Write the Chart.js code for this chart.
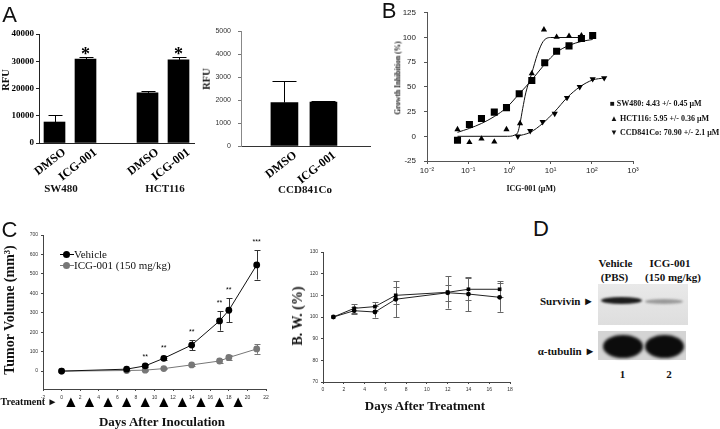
<!DOCTYPE html>
<html>
<head>
<meta charset="utf-8">
<script src="https://cdn.jsdelivr.net/npm/chart.js@4.4.1/dist/chart.umd.min.js"></script>
<style>
  html, body { margin: 0; padding: 0; background: #fff; }
  #fig { position: relative; width: 720px; height: 429px; overflow: hidden; background: #fff; }
  #fig canvas { position: absolute; }
  .t { position: absolute; white-space: nowrap; transform: translate(-50%, -50%); line-height: 1;
       font-family: 'Liberation Serif', 'Times New Roman', serif; font-weight: bold; color: #111; }
  .t.v { transform: translate(-50%, -50%) rotate(-90deg); }
  .t.l { transform: translate(0, -50%); }
  .t.sans { font-family: 'Liberation Sans', Arial, sans-serif; font-weight: normal; }
  .t.reg { font-weight: normal; }
  .blot { position: absolute; }
  .band { position: absolute; border-radius: 50%; }
</style>
</head>
<body>
<div id="fig">
  <canvas id="cA1"></canvas>
  <canvas id="cA2"></canvas>
  <canvas id="cB"></canvas>
  <canvas id="cC1"></canvas>
  <canvas id="cC2"></canvas>
</div>
<script>
// ---- A: RFU per cell line
const aLabels = ['DMSO', 'ICG-001', '', 'DMSO', 'ICG-001'];
const aValues = [7700, 30800, null, 18400, 30500];
const aErrors = [2550, 600, null, 600, 900];
const aStars = ['', '*', '', '', '*'];
const aTicks = [0, 10000, 20000, 30000, 40000];

const ccdLabels = ['DMSO', 'ICG-001'];
const ccdPos = [1, 2];
const ccdValues = [1890, 1910];
const ccdErrors = [950, 30];

// ---- B: growth inhibition vs dose (uM)
const swDose = [0.055, 0.107, 0.21, 0.43, 0.85, 1.73, 3.5, 7.2, 14, 28, 56, 105];
const swInhib = [-4, 12, 18, 24.5, 29, 43, 56.5, 74.5, 86, 91.5, 99, 102];
const hctDose = [0.055, 0.107, 0.21, 0.43, 0.85, 1.81, 3.5, 6.9, 14, 28, 56];
const hctInhib = [7, -6, -2.5, -5.5, 7, 13, 63.5, 108, 100.5, 101.5, 102];
const ccdDose = [1.6, 3.2, 6.4, 12.6, 25, 51, 105, 200];
const ccdInhib = [0, 5.5, 14.7, 23, 39, 50, 58, 59];
// fitted curves
const swFitDose = [0.055, 0.107, 0.21, 0.43, 0.85, 1.73, 3.5, 7.2, 14, 28, 56, 105];
const swFitInhib = [4, 8, 13, 20, 29, 43, 57, 73, 85, 92, 96, 98];
const hctFitDose = [0.055, 0.9, 1.3, 1.6, 1.81, 2.1, 2.5, 3.5, 4.8, 6.6, 10, 56];
const hctFitInhib = [0, 0, 1, 4, 13, 28, 44, 64, 83, 96, 100, 100];
const ccdFitDose = [1.5, 3.2, 6.4, 12.6, 25, 51, 105, 200];
const ccdFitInhib = [0, 4, 13, 25, 39, 50, 57, 59];
const bDecades = [0.01, 0.1, 1, 10, 100, 1000];
const bDecadeLabels = ['10⁻²', '10⁻¹', '10⁰', '10¹', '10²', '10³'];

// ---- C: tumor volume (mm3)
const tvDays = [0, 7, 9, 11, 14, 17, 18, 21];
const vehicleVol = [0, 10, 27, 66, 134, 258, 313, 546];
const vehicleErr = [0, 4, 6, 10, 27, 50, 61, 75];
const icgVol = [0, 3, 5, 13, 32, 52, 70, 114];
const icgErr = [0, 2, 3, 4, 6, 12, 15, 25];
const tvStars = ['', '', '**', '**', '**', '**', '**', '***'];
const treatmentDays = [1, 3, 5, 7, 9, 11, 13, 15, 17, 19];

// ---- C: body weight (%)
const bwDays = [1, 3, 5, 7, 12, 14, 17];
const bwA = [100, 104, 104.8, 110, 111.4, 112.8, 112.8];
const bwAErr = [0, 2, 2.2, 4, 7.5, 5, 3.7];
const bwB = [100, 102.9, 102.3, 108.2, 111.2, 110.6, 109.1];
const bwBErr = [0, 1.5, 2.6, 8.2, 3.6, 8, 6.7];

const SERIF = "'Liberation Serif', 'Times New Roman', serif";
const SANS = "'Liberation Sans', Arial, sans-serif";
const fig = document.getElementById('fig');

function setBox(id, l, t, w, h) {
  const c = document.getElementById(id);
  c.width = w; c.height = h;
  c.style.left = l + 'px'; c.style.top = t + 'px';
  c.style.width = w + 'px'; c.style.height = h + 'px';
  return c;
}

function addText(txt, x, y, size, cls = '') {
  const d = document.createElement('div');
  d.className = 't ' + cls;
  d.textContent = txt;
  d.style.left = x + 'px';
  d.style.top = y + 'px';
  d.style.fontSize = size + 'px';
  fig.appendChild(d);
  return d;
}

const pts = (xs, ys) => xs.map((x, i) => ({ x: x, y: ys[i] }));
const yOf = (raw) => (raw !== null && typeof raw === 'object') ? raw.y : raw;
const plain = v => String(v);

const errorBars = {
  id: 'errorBars',
  beforeDatasetsDraw(chart) {
    const ctx = chart.ctx;
    chart.data.datasets.forEach((ds, i) => {
      if (!ds.errors) return;
      const meta = chart.getDatasetMeta(i);
      const ys = chart.scales[meta.yAxisID];
      ctx.save();
      ctx.strokeStyle = ds.errorColor || '#000';
      ctx.lineWidth = 1;
      meta.data.forEach((el, j) => {
        const err = ds.errors[j];
        const v = yOf(ds.data[j]);
        if (!err || v == null) return;
        const x = Math.round(el.x) + 0.5;
        const top = Math.round(ys.getPixelForValue(v + err)) + 0.5;
        const bot = ys.getPixelForValue(ds.errorUpOnly ? v : v - err);
        const cap = (ds.errorCap || 6) / 2;
        ctx.beginPath();
        ctx.moveTo(x, top); ctx.lineTo(x, bot);
        ctx.moveTo(x - cap, top); ctx.lineTo(x + cap, top);
        if (!ds.errorUpOnly) {
          const b = Math.round(bot) + 0.5;
          ctx.moveTo(x - cap, b); ctx.lineTo(x + cap, b);
        }
        ctx.stroke();
      });
      ctx.restore();
    });
  }
};

const stars = {
  id: 'stars',
  afterDatasetsDraw(chart) {
    const ctx = chart.ctx;
    chart.data.datasets.forEach((ds, i) => {
      if (!ds.stars) return;
      const meta = chart.getDatasetMeta(i);
      const ys = chart.scales[meta.yAxisID];
      ctx.save();
      ctx.fillStyle = '#000';
      ctx.font = ds.starFont;
      ctx.textAlign = 'center';
      ctx.textBaseline = 'middle';
      meta.data.forEach((el, j) => {
        const s = ds.stars[j];
        if (!s) return;
        const v = yOf(ds.data[j]) + (ds.errors ? ds.errors[j] : 0);
        ctx.fillText(s, el.x, ys.getPixelForValue(v) - ds.starGap);
      });
      ctx.restore();
    });
  }
};

// slanted category labels under the x axis, placed at the scale's tick pixels
const slantLabels = {
  id: 'slantLabels',
  afterDraw(chart, args, opts) {
    if (!opts.labels) return;
    const xs = chart.scales.x, ctx = chart.ctx;
    ctx.save();
    ctx.fillStyle = '#000';
    ctx.font = opts.font;
    ctx.textAlign = 'right';
    ctx.textBaseline = 'middle';
    opts.labels.forEach((lab, i) => {
      if (!lab) return;
      const x = xs.getPixelForValue(opts.values ? opts.values[i] : i) + opts.dx;
      ctx.save();
      ctx.translate(x, xs.top + opts.dy);
      ctx.rotate(-opts.angle * Math.PI / 180);
      ctx.fillText(lab, 0, 0);
      ctx.restore();
    });
    ctx.restore();
  }
};

Chart.register(errorBars, stars, slantLabels);
Chart.defaults.animation = false;
Chart.defaults.responsive = false;
Chart.defaults.devicePixelRatio = 1;
Chart.defaults.plugins.legend.display = false;
Chart.defaults.plugins.tooltip.enabled = false;

const slantFont = 'bold 12px ' + SERIF;

// ---------------- A (left) ----------------
new Chart(setBox('cA1', 0, 20, 205, 165), {
  type: 'bar',
  data: {
    labels: aLabels,
    datasets: [{
      data: aValues, backgroundColor: '#000', barThickness: 21,
      errors: aErrors, errorUpOnly: true, errorCap: 14,
      stars: aStars, starFont: 'bold 18px ' + SERIF, starGap: 2
    }]
  },
  options: {
    layout: { padding: { top: 14, right: 11, left: 0, bottom: 0 } },
    plugins: { slantLabels: { labels: aLabels, font: slantFont, angle: 38, dx: 10, dy: 8 } },
    scales: {
      x: {
        afterFit: s => { s.height = 42; },
        grid: { display: false },
        border: { color: '#222' },
        ticks: { display: false }
      },
      y: {
        min: 0, max: 40000,
        afterFit: s => { s.width = 39; },
        afterBuildTicks: s => { s.ticks = aTicks.map(v => ({ value: v })); },
        grid: { drawOnChartArea: false, tickLength: 3, color: '#222' },
        border: { color: '#222' },
        ticks: { color: '#000', font: { family: SERIF, size: 9, weight: 'bold' }, padding: 2, callback: plain }
      }
    }
  }
});

// ---------------- A (right) ----------------
new Chart(setBox('cA2', 200, 20, 175, 165), {
  type: 'bar',
  data: {
    datasets: [{
      data: pts(ccdPos, ccdValues), backgroundColor: '#000', barThickness: 27,
      errors: ccdErrors, errorUpOnly: true, errorCap: 24
    }]
  },
  options: {
    layout: { padding: { top: 10, right: 5, left: 0, bottom: 0 } },
    plugins: { slantLabels: { labels: ccdLabels, values: ccdPos, font: slantFont, angle: 38, dx: 11, dy: 8 } },
    scales: {
      x: {
        type: 'linear', min: 0.3, max: 2.78,
        afterFit: s => { s.height = 39; },
        grid: { display: false },
        border: { color: '#333' },
        ticks: { display: false }
      },
      y: {
        min: 0, max: 5000,
        afterFit: s => { s.width = 41; },
        grid: { drawOnChartArea: false, tickLength: 3, color: '#777' },
        border: { color: '#888' },
        ticks: { stepSize: 1000, color: '#333', font: { family: SANS, size: 7 }, padding: 7, callback: plain }
      }
    }
  }
});

// ---------------- B ----------------
const fitLine = (xs, ys) => ({
  data: pts(xs, ys), showLine: true, pointRadius: 0, borderColor: '#111',
  borderWidth: 1, cubicInterpolationMode: 'monotone', fill: false
});
const marks = (xs, ys, style, r, rot) => ({
  data: pts(xs, ys), showLine: false, pointStyle: style, pointRadius: r,
  rotation: rot || 0, backgroundColor: '#000', borderColor: '#000', borderWidth: 0
});
new Chart(setBox('cB', 380, 0, 262, 182), {
  type: 'line',
  data: {
    datasets: [
      marks(swDose, swInhib, 'rect', 5),
      marks(hctDose, hctInhib, 'triangle', 3.6),
      marks(ccdDose, ccdInhib, 'triangle', 3.6, 180),
      fitLine(swFitDose, swFitInhib),
      fitLine(hctFitDose, hctFitInhib),
      fitLine(ccdFitDose, ccdFitInhib)
    ]
  },
  options: {
    layout: { padding: { top: 8, right: 9, left: 0, bottom: 0 } },
    scales: {
      x: {
        type: 'logarithmic', min: 0.01, max: 1000,
        afterFit: s => { s.height = 21; },
        afterBuildTicks: s => { s.ticks = bDecades.map(v => ({ value: v })); },
        grid: { drawOnChartArea: false, tickLength: 3, color: '#555' },
        border: { color: '#555' },
        ticks: { color: '#222', font: { family: SANS, size: 8 }, padding: 2,
                 callback: v => bDecadeLabels[bDecades.indexOf(v)] }
      },
      y: {
        min: -25, max: 125,
        afterFit: s => { s.width = 47; },
        grid: { drawOnChartArea: false, tickLength: 3, color: '#555' },
        border: { color: '#555' },
        ticks: { stepSize: 25, color: '#222', font: { family: SANS, size: 8 }, padding: 8 }
      }
    }
  }
});

// ---------------- C (tumor volume) ----------------
const treatment = {
  id: 'treatment',
  afterDraw(chart) {
    const xs = chart.scales.x, ctx = chart.ctx;
    ctx.save();
    ctx.fillStyle = '#000';
    treatmentDays.forEach(d => {
      const x = xs.getPixelForValue(d);
      ctx.beginPath();
      ctx.moveTo(x, 397.5 - 225);
      ctx.lineTo(x + 4.6, 407 - 225);
      ctx.lineTo(x - 4.6, 407 - 225);
      ctx.closePath();
      ctx.fill();
    });
    ctx.restore();
  }
};
new Chart(setBox('cC1', 0, 225, 278, 190), {
  type: 'line',
  data: {
    datasets: [
      {
        data: pts(tvDays, vehicleVol), borderColor: '#111', borderWidth: 1,
        pointRadius: 3.4, pointBackgroundColor: '#000', pointBorderWidth: 0,
        errors: vehicleErr, errorColor: '#333', errorCap: 6,
        stars: tvStars, starFont: '7px ' + SANS, starGap: 8
      },
      {
        data: pts(tvDays, icgVol), borderColor: '#777', borderWidth: 1,
        pointRadius: 3.4, pointBackgroundColor: '#777', pointBorderWidth: 0,
        errors: icgErr, errorColor: '#777', errorCap: 6
      }
    ]
  },
  plugins: [treatment],
  options: {
    layout: { padding: { top: 10, right: 12, left: 0, bottom: 0 } },
    scales: {
      x: {
        type: 'linear', min: -2, max: 22,
        afterFit: s => { s.height = 26; },
        grid: { drawOnChartArea: false, tickLength: 2, color: '#444' },
        border: { color: '#444' },
        ticks: { stepSize: 2, color: '#333', font: { family: SANS, size: 5 }, padding: 4 }
      },
      y: {
        min: -92, max: 700,
        afterFit: s => { s.width = 43; },
        afterBuildTicks: s => { s.ticks = [0, 100, 200, 300, 400, 500, 600, 700].map(v => ({ value: v })); },
        grid: { drawOnChartArea: false, tickLength: 2, color: '#444' },
        border: { color: '#444' },
        ticks: { color: '#333', font: { family: SANS, size: 5 }, padding: 3 }
      }
    }
  }
});

// ---------------- C (body weight) ----------------
new Chart(setBox('cC2', 280, 240, 245, 155), {
  type: 'line',
  data: {
    datasets: [
      {
        data: pts(bwDays, bwA), borderColor: '#222', borderWidth: 1,
        pointRadius: 2.6, pointStyle: 'rect', pointBackgroundColor: '#000', pointBorderWidth: 0,
        errors: bwAErr, errorColor: '#666', errorCap: 6
      },
      {
        data: pts(bwDays, bwB), borderColor: '#222', borderWidth: 1,
        pointRadius: 2.4, pointBackgroundColor: '#000', pointBorderWidth: 0,
        errors: bwBErr, errorColor: '#666', errorCap: 6
      }
    ]
  },
  options: {
    layout: { padding: { top: 12, right: 15, left: 0, bottom: 0 } },
    scales: {
      x: {
        type: 'linear', min: 0, max: 18,
        afterFit: s => { s.height = 13; },
        grid: { drawOnChartArea: false, tickLength: 2, color: '#444' },
        border: { color: '#444' },
        ticks: { stepSize: 2, color: '#333', font: { family: SANS, size: 5 }, padding: 3 }
      },
      y: {
        min: 70, max: 130,
        afterFit: s => { s.width = 43; },
        grid: { drawOnChartArea: false, tickLength: 2, color: '#444' },
        border: { color: '#444' },
        ticks: { stepSize: 10, color: '#333', font: { family: SANS, size: 5 }, padding: 3 }
      }
    }
  }
});

// ---------------- text ----------------
addText('A', 9.5, 14.5, 22, 'sans');
addText('B', 389, 11, 22, 'sans');
addText('C', 9.5, 230, 22, 'sans');
addText('D', 541, 228.5, 22, 'sans');

addText('RFU', 6, 80, 10.5, 'v');
addText('RFU', 207, 79, 10.5, 'v');
addText('SW480', 61, 188, 11);
addText('HCT116', 165, 188, 11);
addText('CCD841Co', 305, 189, 11);

addText('Growth Inhibition (%)', 398, 78, 7.5, 'v');
addText('ICG-001 (μM)', 531, 189, 8);
addText('■  SW480: 4.43 +/- 0.45 μM', 610, 103.5, 8, 'l');
addText('▲  HCT116: 5.95 +/- 0.36 μM', 610, 118.5, 8, 'l');
addText('▼  CCD841Co: 70.90 +/- 2.1 μM', 610, 133, 8, 'l');

addText('Tumor Volume (mm³)', 10, 310, 14, 'v');
addText('Days After Inoculation', 162, 421, 13);
addText('Treatment ►', 29, 402, 10);
addText('Vehicle', 74, 253.5, 11, 'l reg');
addText('ICG-001 (150 mg/kg)', 74, 264.5, 11, 'l reg');

addText('B. W. (%)', 298, 316, 14, 'v');
addText('Days After Treatment', 425, 405, 13);

addText('Vehicle', 615.5, 263, 11);
addText('(PBS)', 614.5, 277, 11);
addText('ICG-001', 670, 263, 11);
addText('(150 mg/kg)', 673, 277, 11);
addText('Survivin ►', 567, 301, 11);
addText('α-tubulin ►', 566.5, 351, 11);
addText('1', 622.5, 373.5, 11);
addText('2', 669, 373.5, 11);

// legend symbols for tumor volume chart
function legendSym(y, color) {
  const line = document.createElement('div');
  line.style.cssText = `position:absolute;left:60px;top:${y}px;width:14px;height:1px;background:${color};`;
  const dot = document.createElement('div');
  dot.style.cssText = `position:absolute;left:${66.7 - 3.4}px;top:${y - 3}px;width:7px;height:7px;border-radius:50%;background:${color};`;
  fig.appendChild(line); fig.appendChild(dot);
}
legendSym(254, '#000');
legendSym(264.5, '#777');

// ---------------- D: western blot (image panel) ----------------
function blot(l, t, w, h, bg) {
  const d = document.createElement('div');
  d.className = 'blot';
  d.style.cssText = `left:${l}px;top:${t}px;width:${w}px;height:${h}px;background:${bg};`;
  fig.appendChild(d);
}
function band(l, t, w, h, color, blur) {
  const d = document.createElement('div');
  d.className = 'band';
  d.style.cssText = `left:${l}px;top:${t}px;width:${w}px;height:${h}px;background:${color};filter:blur(${blur}px);`;
  fig.appendChild(d);
}
blot(598, 284, 90, 41, 'linear-gradient(180deg,#e9e9e9,#dedede)');
band(601, 297, 41, 7, '#1c1c1c', 1.2);
band(645, 299, 38, 5, '#9a9a9a', 1.2);
blot(598, 331, 88, 29, '#d4d4d4');
band(603, 335, 40, 23, '#0c0c0c', 1.5);
band(645, 335, 39, 23, '#0c0c0c', 1.5);
</script>
</body>
</html>
